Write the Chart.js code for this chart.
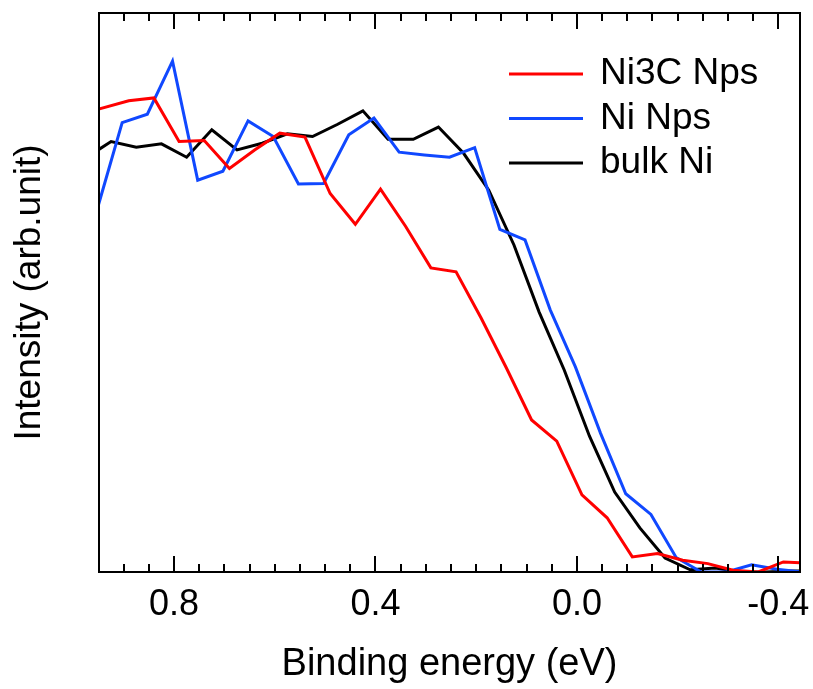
<!DOCTYPE html>
<html>
<head>
<meta charset="utf-8">
<title>Valence band spectra</title>
<script src="https://cdn.jsdelivr.net/npm/chart.js@4.4.0/dist/chart.umd.min.js"></script>
<style>
    body { margin: 0; background: #fff; }
    #wrap { width: 813px; height: 689px; }
</style>
</head>
<body>
<div id="wrap"><canvas id="vbChart" width="813" height="689"></canvas></div>
<script>
// 数据：结合能 (eV) 与强度 (任意单位)，三条曲线的采样点略有错开
const energyNi3C = [0.95, 0.89, 0.84, 0.79, 0.74, 0.69, 0.64, 0.59, 0.54, 0.49, 0.44, 0.39, 0.34, 0.29, 0.24,
    0.19, 0.14, 0.09, 0.04, -0.01, -0.06, -0.11, -0.16, -0.21, -0.26, -0.31, -0.36, -0.41, -0.46];
const intensityNi3C = [82.8, 84.3, 84.8, 77.0, 77.2, 72.2, 75.5, 78.5, 77.8, 67.7, 62.2, 68.5, 61.8, 54.4, 53.7,
    45.4, 36.5, 27.2, 23.4, 13.8, 9.7, 2.7, 3.3, 2.1, 1.5, 0.3, 0.0, 1.8, 1.6];

const energyNi = [0.95, 0.903, 0.853, 0.803, 0.753, 0.703, 0.653, 0.603, 0.553, 0.503, 0.453, 0.403, 0.353, 0.303, 0.253,
    0.203, 0.153, 0.103, 0.053, 0.003, -0.047, -0.097, -0.147, -0.197, -0.247, -0.297, -0.347, -0.397, -0.447];
const intensityNi = [65.7, 80.4, 81.9, 91.4, 70.1, 71.7, 80.7, 77.9, 69.4, 69.5, 78.2, 81.2, 75.1, 74.6, 74.2,
    75.9, 61.3, 59.4, 46.9, 36.7, 24.8, 14.0, 10.3, 2.6, 0.0, 0.0, 1.3, 0.5, 0.0];

const energyBulk = [0.975, 0.925, 0.875, 0.825, 0.775, 0.725, 0.675, 0.625, 0.575, 0.525, 0.475, 0.425, 0.375, 0.325, 0.275,
    0.225, 0.175, 0.125, 0.075, 0.025, -0.025, -0.075, -0.125, -0.175, -0.225, -0.275, -0.325, -0.375, -0.425, -0.475];
const intensityBulk = [74.1, 77.0, 76.0, 76.6, 74.2, 79.1, 75.5, 76.7, 78.4, 77.9, 80.1, 82.5, 77.4, 77.4, 79.6,
    74.9, 68.3, 58.5, 46.5, 36.1, 24.3, 14.3, 7.9, 2.5, 0.4, 0.7, 0.0, 0.0, 0.2, 0.2];

const seriesLabels = ['Ni3C Nps', 'Ni Nps', 'bulk Ni'];
const seriesColors = ['#ff0000', '#1048ff', '#000000'];
const majorTicks = [0.8, 0.4, 0.0, -0.4];

const FONT = "'Liberation Sans', Arial, sans-serif";

function toPoints(xs, ys) {
    return xs.map((x, i) => ({ x: x, y: ys[i] }));
}

// 外框和朝内的刻度线（上下两边）
const frameTicks = {
    id: 'frameTicks',
    afterDatasetsDraw(chart) {
        const { ctx, chartArea: a, scales: { x } } = chart;
        ctx.save();
        ctx.strokeStyle = '#000';
        ctx.lineWidth = 2;
        ctx.strokeRect(a.left, a.top, a.right - a.left, a.bottom - a.top);
        ctx.beginPath();
        for (let i = -8; i <= 18; i++) {
            const v = i * 0.05;
            if (v < x.min || v > x.max) continue;
            const px = Math.round(x.getPixelForValue(v));
            const len = (i % 8 === 0) ? 16 : 8;
            ctx.moveTo(px, a.bottom);
            ctx.lineTo(px, a.bottom - len);
            ctx.moveTo(px, a.top);
            ctx.lineTo(px, a.top + len);
        }
        ctx.stroke();
        ctx.restore();
    }
};

// 图内图例
const innerLegend = {
    id: 'innerLegend',
    afterDraw(chart) {
        const ctx = chart.ctx;
        ctx.save();
        ctx.font = '37px ' + FONT;
        ctx.textBaseline = 'middle';
        ctx.fillStyle = '#000';
        chart.data.datasets.forEach((ds, i) => {
            const y = 74 + i * 44.5;
            ctx.strokeStyle = ds.borderColor;
            ctx.lineWidth = 3;
            ctx.beginPath();
            ctx.moveTo(509, y);
            ctx.lineTo(583, y);
            ctx.stroke();
            ctx.fillText(ds.label, 600, y);
        });
        ctx.restore();
    }
};

new Chart(document.getElementById('vbChart'), {
    type: 'line',
    data: {
        datasets: [
            { label: seriesLabels[0], data: toPoints(energyNi3C, intensityNi3C), borderColor: seriesColors[0] },
            { label: seriesLabels[1], data: toPoints(energyNi, intensityNi), borderColor: seriesColors[1] },
            { label: seriesLabels[2], data: toPoints(energyBulk, intensityBulk), borderColor: seriesColors[2] }
        ]
    },
    options: {
        responsive: false,
        animation: false,
        devicePixelRatio: 1,
        layout: { padding: { top: 13, right: 13, left: 0, bottom: 0 } },
        elements: {
            line: { borderWidth: 3, tension: 0, fill: false },
            point: { radius: 0 }
        },
        plugins: {
            legend: { display: false },
            tooltip: { enabled: false }
        },
        scales: {
            x: {
                type: 'linear',
                reverse: true,
                min: -0.443,
                max: 0.949,
                afterBuildTicks(scale) {
                    scale.ticks = majorTicks.map(v => ({ value: v }));
                },
                afterFit(scale) {
                    scale.height = 117;
                    scale.paddingLeft = 0;
                    scale.paddingRight = 0;
                },
                grid: { display: false, drawTicks: false },
                border: { display: false },
                ticks: {
                    color: '#000',
                    padding: 15,
                    maxRotation: 0,
                    autoSkip: false,
                    font: { family: FONT, size: 36, lineHeight: 1 },
                    callback: v => Number(v).toFixed(1)
                },
                title: {
                    display: true,
                    text: 'Binding energy (eV)',
                    color: '#000',
                    padding: { top: 0, bottom: 5 },
                    font: { family: FONT, size: 38, lineHeight: 1 }
                }
            },
            y: {
                min: 0,
                max: 100,
                afterFit(scale) {
                    scale.width = 99;
                },
                grid: { display: false, drawTicks: false },
                border: { display: false },
                ticks: { display: false },
                title: {
                    display: true,
                    text: 'Intensity (arb.unit)',
                    color: '#000',
                    padding: { top: 11, bottom: 0 },
                    font: { family: FONT, size: 37, lineHeight: 1 }
                }
            }
        }
    },
    plugins: [frameTicks, innerLegend]
});
</script>
</body>
</html>
